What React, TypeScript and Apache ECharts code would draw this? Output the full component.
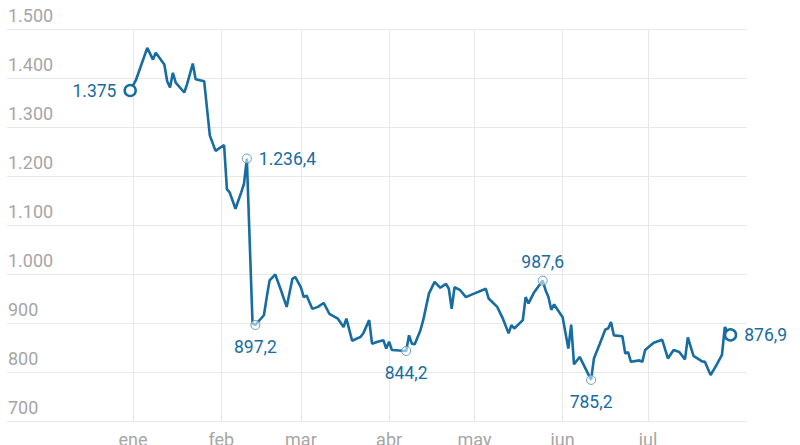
import React, { useEffect, useRef } from "react";
import * as echarts from "echarts";

const dates = [
  "2024-12-31", "2025-01-02", "2025-01-06", "2025-01-08", "2025-01-09", "2025-01-12", "2025-01-13",
  "2025-01-14", "2025-01-15", "2025-01-16", "2025-01-19", "2025-01-20", "2025-01-22", "2025-01-23",
  "2025-01-26", "2025-01-28", "2025-01-30", "2025-02-02", "2025-02-03", "2025-02-04", "2025-02-06",
  "2025-02-08", "2025-02-09", "2025-02-10", "2025-02-12", "2025-02-13", "2025-02-16", "2025-02-17",
  "2025-02-18", "2025-02-20", "2025-02-22", "2025-02-24", "2025-02-26", "2025-02-27", "2025-03-01",
  "2025-03-02", "2025-03-03", "2025-03-05", "2025-03-07", "2025-03-09", "2025-03-11", "2025-03-14",
  "2025-03-16", "2025-03-17", "2025-03-19", "2025-03-22", "2025-03-23", "2025-03-25", "2025-03-26",
  "2025-03-28", "2025-03-30", "2025-03-31", "2025-04-01", "2025-04-02", "2025-04-07", "2025-04-08",
  "2025-04-09", "2025-04-10", "2025-04-12", "2025-04-13", "2025-04-15", "2025-04-17", "2025-04-18",
  "2025-04-19", "2025-04-21", "2025-04-22", "2025-04-23", "2025-04-24", "2025-04-26", "2025-04-28",
  "2025-04-30", "2025-05-05", "2025-05-06", "2025-05-09", "2025-05-11", "2025-05-13", "2025-05-14",
  "2025-05-15", "2025-05-18", "2025-05-19", "2025-05-20", "2025-05-22", "2025-05-25", "2025-05-26",
  "2025-05-27", "2025-05-28", "2025-05-29", "2025-06-01", "2025-06-03", "2025-06-04", "2025-06-05",
  "2025-06-07", "2025-06-11", "2025-06-12", "2025-06-14", "2025-06-16", "2025-06-17", "2025-06-18",
  "2025-06-19", "2025-06-22", "2025-06-23", "2025-06-24", "2025-06-25", "2025-06-28", "2025-06-29",
  "2025-06-30", "2025-07-03", "2025-07-06", "2025-07-08", "2025-07-10", "2025-07-12", "2025-07-14",
  "2025-07-15", "2025-07-17", "2025-07-20", "2025-07-21", "2025-07-23", "2025-07-25", "2025-07-27",
  "2025-07-28", "2025-07-29", "2025-07-30",
];

const values = [
  1375, 1396, 1462, 1438, 1452, 1428, 1394,
  1381, 1411, 1391, 1371, 1388, 1430, 1398,
  1394, 1283, 1252, 1264, 1174, 1167, 1134,
  1167, 1185, 1236.4, 900, 897.2, 917, 954,
  988, 1000, 968, 934, 991, 995, 974,
  954, 957, 930, 934, 942, 920, 910,
  893, 910, 865, 873, 881, 907, 859,
  863, 866, 849, 863, 846, 844.2, 876,
  859, 858, 886, 907, 961, 985, 979,
  973, 981, 971, 930, 974, 968, 954,
  959, 971, 951, 934, 910, 880, 897,
  890, 907, 954, 941, 964, 987.6, 968,
  954, 928, 939, 913, 849, 898, 817,
  832, 785.2, 829, 858, 888, 890, 903,
  876, 874, 839, 842, 822, 825, 822,
  846, 861, 867, 829, 846, 842, 827,
  872, 834, 823, 822, 795, 815, 836,
  893, 883, 876.9,
];

const monthStarts = ["2025-01-01", "2025-02-01", "2025-03-01", "2025-04-01", "2025-05-01", "2025-06-01", "2025-07-01"];
const monthLabels = ["ene", "feb", "mar", "abr", "may", "jun", "jul"];

// annotated points and where their labels sit
const annotatedDates = ["2024-12-31", "2025-02-10", "2025-02-13", "2025-04-07", "2025-05-25", "2025-06-11", "2025-07-30"];
const annotatedPositions = ["left", "right", "bottom", "bottom", "top", "bottom", "right"];
const endpointDates = ["2024-12-31", "2025-07-30"];

const BLUE = "#176ca2";
const GRID = "#e8e8e8";
const FONT = "Roboto, 'Noto Sans', sans-serif";
const DAY = 86400000;

function ts(s: string): number {
  const [y, m, d] = s.split("-").map(Number);
  return Date.UTC(y, m - 1, d);
}

function fmt(v: number): string {
  const isInt = Number.isInteger(v);
  const str = isInt ? String(v) : v.toFixed(1);
  const [i, d] = str.split(".");
  const grouped = i.replace(/\B(?=(\d{3})+(?!\d))/g, ".");
  return d ? grouped + "," + d : grouped;
}

export default function App() {
  const ref = useRef<HTMLDivElement>(null);

  useEffect(() => {
    if (!ref.current) return;
    const chart = echarts.init(ref.current, null, { renderer: "svg" });
    const jan1 = ts("2025-01-01");
    const monthTs = monthStarts.map(ts);

    const data = dates.map((d, i) => {
      const point = [ts(d), values[i]];
      const ai = annotatedDates.indexOf(d);
      if (ai < 0) return point;
      const pos = annotatedPositions[ai];
      const big = endpointDates.indexOf(d) >= 0;
      const dist = pos === "bottom" ? 8 : pos === "top" ? 5 : 7;
      return {
        value: point,
        symbol: "circle",
        symbolSize: big ? 11 : 9,
        itemStyle: big
          ? { color: "#ffffff", borderColor: BLUE, borderWidth: 2.5 }
          : { color: "rgba(255,255,255,0.55)", borderColor: "#5f9dc6", borderWidth: 1 },
        label: {
          show: true,
          position: pos,
          distance: dist,
          formatter: fmt(values[i]),
          color: BLUE,
          fontSize: 17.5,
          fontFamily: FONT,
        },
      };
    });

    chart.setOption({
      animation: false,
      grid: {
        left: 7,
        right: 53,
        top: 29.2,
        bottom: 23.3,
        containLabel: false,
        outerBoundsMode: "none",
      },
      xAxis: {
        type: "value",
        min: jan1 - 44.3 * DAY,
        max: jan1 + 215.8 * DAY,
        axisLine: { show: false },
        axisTick: { show: false, customValues: monthTs },
        axisLabel: {
          customValues: monthTs,
          formatter: (v: number) => {
            const idx = monthTs.indexOf(v);
            return idx >= 0 ? monthLabels[idx] : "";
          },
          color: "#a6a6a6",
          fontSize: 18,
          fontFamily: FONT,
          margin: 9,
        },
        splitLine: { show: false },
      },
      yAxis: {
        type: "value",
        min: 700,
        max: 1500,
        interval: 100,
        axisLine: { show: false },
        axisTick: { show: false },
        axisLabel: {
          inside: true,
          margin: 1,
          verticalAlign: "bottom",
          lineHeight: 28,
          formatter: (v: number) => fmt(v),
          color: "#a6a6a6",
          fontSize: 18,
          fontFamily: FONT,
        },
        splitLine: { show: true, lineStyle: { color: GRID, width: 1 } },
      },
      series: [
        {
          type: "line",
          data,
          symbol: "none",
          showSymbol: true,
          showAllSymbol: true,
          lineStyle: { color: BLUE, width: 2.6 },
          itemStyle: { color: BLUE },
          emphasis: { disabled: true },
          z: 3,
          markLine: {
            silent: true,
            z: 1,
            symbol: "none",
            label: { show: false },
            lineStyle: { color: GRID, width: 1, type: "solid" },
            emphasis: { disabled: true },
            data: monthTs.map((t) => ({ xAxis: t })),
          },
        },
      ],
    });
    return () => chart.dispose();
  }, []);

  return (
    <div
      ref={ref}
      style={{ position: "fixed", left: 0, top: 0, width: 800, height: 445, background: "#ffffff" }}
    />
  );
}
